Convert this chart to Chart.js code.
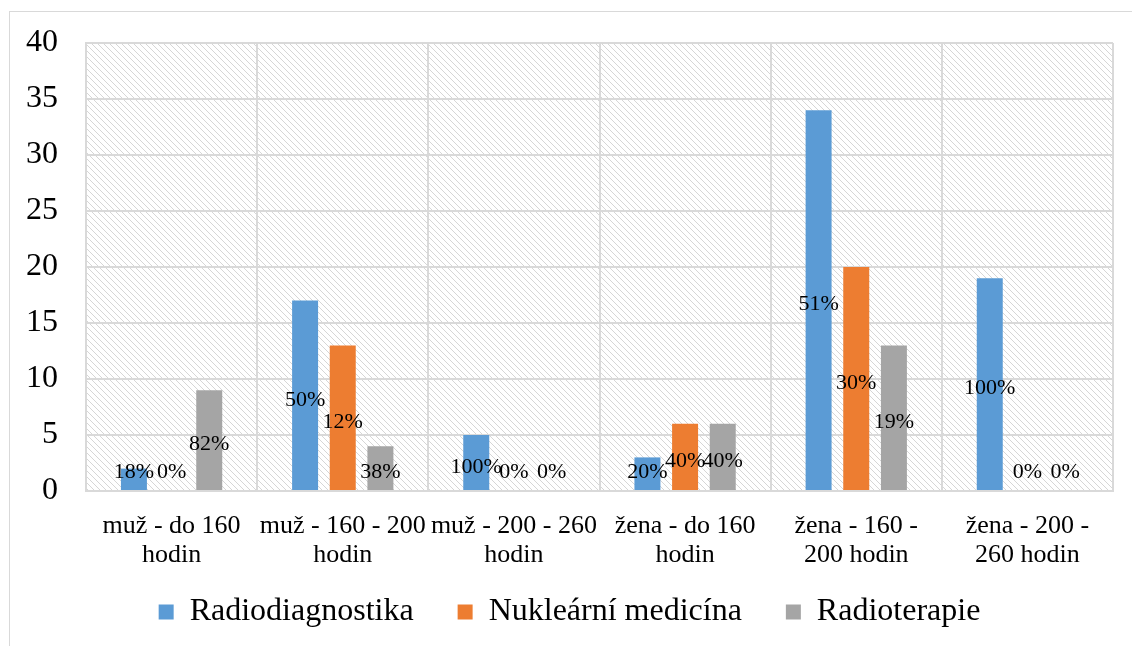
<!DOCTYPE html>
<html>
<head>
<meta charset="utf-8">
<script src="https://cdn.jsdelivr.net/npm/chart.js@4.4.0/dist/chart.umd.min.js"></script>
<style>
  html, body { margin: 0; padding: 0; background: #fff; }
  #wrap { position: relative; width: 1132px; height: 646px; overflow: hidden; }
  #frame { position: absolute; left: 9px; top: 11px; width: 1140px; height: 660px; border: 1px solid #d9d9d9; }
  #chart1 { position: absolute; left: 0; top: 0; }
</style>
</head>
<body>
<div id="wrap">
  <div id="frame"></div>
  <canvas id="chart1" width="1132" height="646"></canvas>
</div>
<script>
var labels = [
  ["muž - do 160", "hodin"],
  ["muž - 160 - 200", "hodin"],
  ["muž - 200 - 260", "hodin"],
  ["žena - do 160", "hodin"],
  ["žena - 160 -", "200 hodin"],
  ["žena - 200 -", "260 hodin"]
];
var radiodiagnostika = [2, 17, 5, 3, 34, 19];
var nuklearni = [0, 13, 0, 6, 20, 0];
var radioterapie = [9, 4, 0, 6, 13, 0];

var pctRadiodiagnostika = ["18%", "50%", "100%", "20%", "51%", "100%"];
var pctNuklearni = ["0%", "12%", "0%", "40%", "30%", "0%"];
var pctRadioterapie = ["82%", "38%", "0%", "40%", "19%", "0%"];

var serif = "'Liberation Serif', 'Times New Roman', serif";

// hatch pattern for plot background
var tile = document.createElement('canvas');
tile.width = 6; tile.height = 6;
var tc = tile.getContext('2d');
tc.strokeStyle = '#d6d6d6';
tc.lineWidth = 1;
tc.beginPath();
tc.moveTo(0, 0); tc.lineTo(6, 6);
tc.moveTo(-3, 3); tc.lineTo(3, 9);
tc.moveTo(3, -3); tc.lineTo(9, 3);
tc.stroke();

var hatchBg = {
  id: 'hatchBg',
  beforeDraw: function(chart) {
    var a = chart.chartArea, c = chart.ctx;
    c.save();
    c.fillStyle = c.createPattern(tile, 'repeat');
    c.fillRect(a.left, a.top, a.right - a.left, a.bottom - a.top);
    c.restore();
  }
};

// legend padding is wide (item gaps), pull the legend up so it sits under the axis labels
// and center it on the whole frame
var legendShift = {
  id: 'legendShift',
  afterLayout: function(chart) {
    var l = chart.legend;
    var dy = 552 - l.top;
    l.top += dy;
    l.bottom += dy;
    l.left += 13;
    l.right += 13;
  }
};

// percentage labels, in the middle of each bar (kept above the axis for small bars)
var pctLabels = {
  id: 'pctLabels',
  afterDatasetsDraw: function(chart) {
    var c = chart.ctx, y = chart.scales.y;
    c.save();
    c.font = '22px ' + serif;
    c.fillStyle = '#000';
    c.textAlign = 'center';
    c.textBaseline = 'middle';
    chart.data.datasets.forEach(function(ds, i) {
      var meta = chart.getDatasetMeta(i);
      meta.data.forEach(function(bar, j) {
        var v = ds.data[j];
        c.fillText(ds.pct[j], bar.x, y.getPixelForValue(Math.max(v / 2, 2)) + 4);
      });
    });
    c.restore();
  }
};

var ctx = document.getElementById('chart1').getContext('2d');
var chart = new Chart(ctx, {
  type: 'bar',
  data: {
    labels: labels,
    datasets: [{
      label: "Radiodiagnostika",
      backgroundColor: '#5B9BD5',
      data: radiodiagnostika,
      pct: pctRadiodiagnostika
    }, {
      label: "Nukleární medicína",
      backgroundColor: '#ED7D31',
      data: nuklearni,
      pct: pctNuklearni
    }, {
      label: "Radioterapie",
      backgroundColor: '#A5A5A5',
      data: radioterapie,
      pct: pctRadioterapie
    }]
  },
  options: {
    responsive: false,
    animation: false,
    categoryPercentage: 0.66,
    barPercentage: 0.69,
    layout: { padding: { top: 43, right: 19, left: 0, bottom: 0 } },
    scales: {
      x: {
        grid: { color: '#d9d9d9', lineWidth: 2, drawTicks: false },
        border: { color: '#d9d9d9', width: 2 },
        ticks: {
          color: '#000', font: { family: serif, size: 26, lineHeight: 1.1 },
          padding: 21, maxRotation: 0, autoSkip: false
        },
        afterFit: function(s) { s.height = 80; }
      },
      y: {
        min: 0, max: 40,
        grid: { color: '#d9d9d9', lineWidth: 2, drawTicks: false },
        border: { color: '#d9d9d9', width: 2 },
        ticks: { stepSize: 5, color: '#000', font: { family: serif, size: 32, lineHeight: 0.9 }, padding: 28 },
        afterFit: function(s) { s.width = 86; }
      }
    },
    plugins: {
      tooltip: { enabled: false },
      legend: {
        position: 'bottom',
        maxHeight: 75,
        labels: {
          color: '#000',
          font: { family: serif, size: 32 },
          boxWidth: 15, boxHeight: 15,
          padding: 44
        }
      }
    }
  },
  plugins: [hatchBg, legendShift, pctLabels]
});
</script>
</body>
</html>
